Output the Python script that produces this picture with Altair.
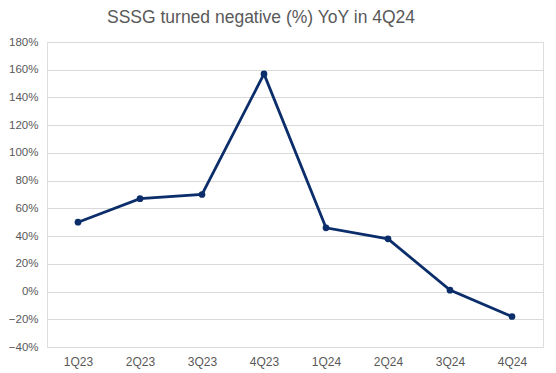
import altair as alt
import pandas as pd

quarters = ["1Q23", "2Q23", "3Q23", "4Q23", "1Q24", "2Q24", "3Q24", "4Q24"]
sssg = [50, 67, 70, 157, 46, 38, 1, -18]
y_ticks = [-40, -20, 0, 20, 40, 60, 80, 100, 120, 140, 160, 180]

df = pd.DataFrame({"q": quarters, "v": [x / 100 for x in sssg]})

FONT = "Liberation Sans"
GRAY = "#595959"
NAVY = "#0b2e6b"

base = alt.Chart(df).encode(
    x=alt.X("q:N", sort=quarters, title=None,
            scale=alt.Scale(type="point", padding=0.5),
            axis=alt.Axis(labelAngle=0, ticks=False, domain=False, grid=False,
                          labelFont=FONT, labelFontSize=12, labelColor=GRAY,
                          labelPadding=9)),
    y=alt.Y("v:Q", title=None,
            scale=alt.Scale(domain=[-0.4, 1.8], nice=False, zero=False),
            axis=alt.Axis(values=[t / 100 for t in y_ticks], format=".0%",
                          ticks=False, domain=False, gridColor="#d9d9d9",
                          gridWidth=1, labelFont=FONT, labelFontSize=11.5,
                          labelColor=GRAY, labelPadding=9)),
)

line = base.mark_line(color=NAVY, strokeWidth=2.8)
pts = base.mark_circle(color=NAVY, size=45, opacity=1)

chart = (line + pts).properties(
    width=496, height=305,
    autosize=alt.AutoSizeParams(type="none"),
    padding={"left": 39, "top": 34, "right": 5, "bottom": 24},
    title=alt.TitleParams("SSSG turned negative (%) YoY in 4Q24", font=FONT,
                          fontSize=17.5, fontWeight="normal", color=GRAY,
                          anchor="middle", dx=-34, offset=10),
).configure_view(stroke=None).configure(background="white")

chart.save("out.html", embed_options={"renderer": "svg", "actions": False})
